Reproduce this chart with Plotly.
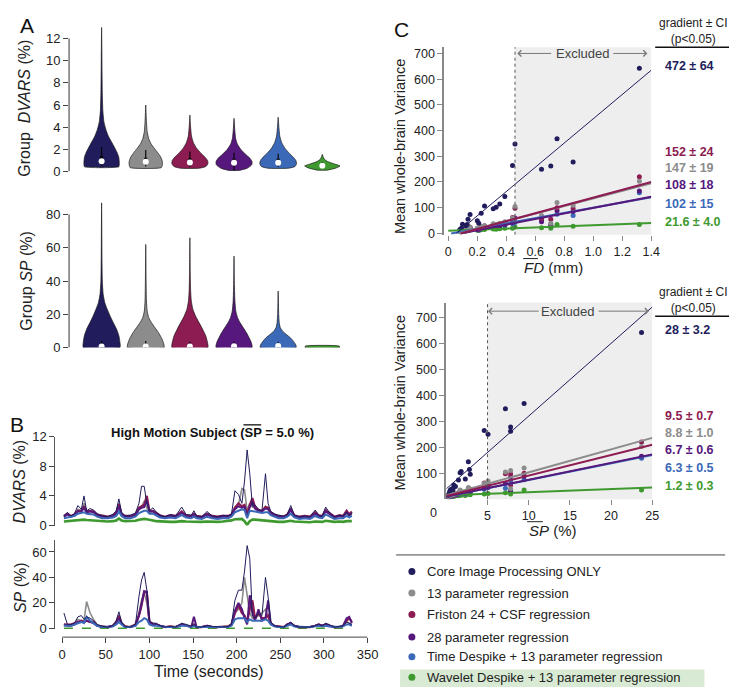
import plotly.graph_objects as go

W, H = 737, 687
FONT = "Liberation Sans, Arial, sans-serif"

PIPELINES = [
    "Core Image Processing ONLY",
    "13 parameter regression",
    "Friston 24 + CSF regression",
    "28 parameter regression",
    "Time Despike + 13 parameter regression",
    "Wavelet Despike + 13 parameter regression",
]
COLORS = ["#211d5c", "#8c8c8c", "#8c1c52", "#56187c", "#3b69b8", "#3e9a2f"]

# --- panel A: violin profiles (level, relative density) ---
DVARS_LEVELS = [
    [0.42, 0.6, 0.9, 1.3, 1.7, 2.2, 2.7, 3.2, 3.8, 4.5, 5.5, 7, 9, 11, 13],
    [0.35, 0.6, 0.9, 1.3, 1.7, 2.1, 2.5, 3.0, 3.6, 4.5, 6.0],
    [0.3, 0.45, 0.7, 1.0, 1.3, 1.7, 2.1, 2.6, 3.2, 4.0, 5.1],
    [0.1, 0.3, 0.6, 0.9, 1.2, 1.6, 2.0, 2.5, 3.0, 3.8, 4.8],
    [0.3, 0.45, 0.7, 1.0, 1.3, 1.7, 2.1, 2.6, 3.2, 4.0, 4.9],
    [0.12, 0.3, 0.5, 0.7, 0.9, 1.1, 1.3, 1.55],
]
DVARS_DENS = [
    [0.97, 1.0, 1.0, 0.97, 0.88, 0.72, 0.55, 0.38, 0.24, 0.13, 0.07, 0.04, 0.025, 0.015, 0],
    [0.88, 0.94, 0.94, 0.85, 0.68, 0.48, 0.3, 0.16, 0.08, 0.04, 0],
    [0.55, 0.9, 1.02, 1.0, 0.85, 0.6, 0.38, 0.2, 0.09, 0.04, 0],
    [0.3, 0.75, 1.0, 1.02, 0.9, 0.62, 0.38, 0.18, 0.09, 0.04, 0],
    [0.6, 0.95, 1.04, 1.0, 0.85, 0.6, 0.38, 0.2, 0.09, 0.04, 0],
    [0.25, 0.75, 1.0, 0.65, 0.3, 0.12, 0.05, 0],
]
# whisker low, q1, median, q3, whisker high
DVARS_BOX = [
    [0.5, 0.7, 0.92, 1.4, 2.2],
    [0.45, 0.65, 0.88, 1.25, 1.95],
    [0.4, 0.6, 0.82, 1.2, 1.8],
    [0.1, 0.5, 0.78, 1.15, 1.7],
    [0.4, 0.6, 0.78, 1.15, 1.6],
    [0.25, 0.4, 0.52, 0.65, 0.85],
]

SP_LEVELS = [
    [0, 3, 7, 11, 15, 19, 23, 27, 32, 40, 55, 70, 87],
    [0, 3, 6, 9, 12, 15, 18, 22, 28, 40, 62],
    [0, 3, 7, 11, 15, 19, 23, 28, 35, 45, 66],
    [0, 3, 6, 9, 12, 15, 18, 22, 28, 38, 55],
    [0, 2, 4, 6, 8, 10, 12, 15, 20, 27, 34],
    [0, 0.9],
]
SP_DENS = [
    [1.04, 1.04, 0.98, 0.85, 0.66, 0.48, 0.32, 0.18, 0.09, 0.04, 0.02, 0.012, 0],
    [1.04, 1.0, 0.88, 0.72, 0.52, 0.32, 0.17, 0.08, 0.04, 0.02, 0],
    [1.02, 1.0, 0.9, 0.72, 0.52, 0.32, 0.17, 0.08, 0.04, 0.02, 0],
    [1.02, 0.98, 0.85, 0.7, 0.52, 0.34, 0.2, 0.1, 0.05, 0.02, 0],
    [1.02, 0.98, 0.85, 0.68, 0.45, 0.24, 0.12, 0.06, 0.03, 0.015, 0],
    [0.98, 0.96],
]
SP_BOX = [
    [0, 0.2, 0.7, 2.0, 4.0],
    [0, 0.2, 0.7, 2.0, 4.0],
    [0, 0.2, 0.7, 1.8, 3.5],
    [0, 0.2, 0.8, 1.8, 3.5],
    [0, 0.2, 1.0, 2.0, 3.5],
    None,
]

# --- panel B: high motion subject time series ---
T = [2, 6, 10, 14, 18, 22, 25, 28, 32, 36, 40, 46, 52, 58, 62, 65, 68, 72, 78, 84,
     88, 91, 94, 97, 100, 104, 108, 112, 118, 124, 130, 137, 142, 148, 151, 154, 160, 166, 172, 178,
     184, 190, 194, 198, 202, 206, 209, 212, 215, 218, 221, 225, 229, 233, 236, 239, 243, 248, 254, 258,
     262, 266, 272, 278, 284, 290, 294, 298, 302, 306, 312, 318, 322, 326, 329, 332]

DVARS_CORE = [1.3, 1.8, 1.3, 1.6, 2.7, 2.2, 4.0, 2.0, 2.3, 2.1, 1.6, 1.3, 1.2, 1.5, 2.0, 3.6, 1.8, 1.3, 1.4, 1.7,
              3.0, 5.3, 5.3, 3.0, 2.0, 2.4, 1.8, 1.4, 1.2, 1.5, 1.3, 2.5, 1.5, 1.4, 2.0, 1.3, 1.2, 1.9, 1.3, 1.2,
              1.4, 1.3, 1.5, 4.7, 4.2, 3.0, 6.0, 10.2, 7.0, 2.6, 2.8, 2.2, 2.0, 7.0, 3.0, 1.9, 1.6, 1.4, 1.3, 1.5,
              2.7, 1.4, 1.2, 1.3, 1.2, 2.1, 1.4, 1.3, 2.5, 1.8, 1.2, 1.4, 1.3, 1.8, 1.4, 1.6]
DVARS_13P = [1.2, 1.5, 1.2, 1.5, 2.2, 2.0, 3.0, 1.9, 2.0, 1.9, 1.5, 1.2, 1.1, 1.3, 1.7, 3.0, 1.6, 1.2, 1.3, 1.5,
             2.4, 2.5, 3.3, 2.4, 1.8, 1.9, 1.6, 1.3, 1.1, 1.4, 1.2, 1.9, 1.4, 1.3, 1.6, 1.2, 1.1, 1.5, 1.2, 1.1,
             1.3, 1.2, 1.4, 2.5, 2.8, 5.0, 4.8, 2.0, 3.0, 2.5, 2.4, 2.0, 1.8, 2.6, 2.3, 1.7, 1.5, 1.3, 1.2, 1.4,
             2.2, 1.3, 1.1, 1.2, 1.1, 1.7, 1.3, 1.2, 2.0, 1.6, 1.1, 1.3, 1.2, 1.6, 1.3, 1.5]
DVARS_FRISTON = [1.3, 1.6, 1.3, 1.5, 2.0, 2.0, 2.6, 1.9, 2.0, 1.9, 1.5, 1.3, 1.2, 1.4, 1.8, 2.9, 1.6, 1.3, 1.3, 1.5,
                 2.4, 2.6, 2.8, 4.0, 2.0, 2.0, 1.7, 1.4, 1.2, 1.4, 1.3, 1.9, 1.4, 1.3, 1.6, 1.3, 1.2, 1.6, 1.3, 1.2,
                 1.3, 1.3, 1.5, 2.4, 3.0, 2.6, 2.8, 1.5, 2.8, 3.7, 2.5, 2.1, 2.0, 2.5, 2.4, 1.8, 1.5, 1.3, 1.2, 1.5,
                 2.3, 1.4, 1.2, 1.3, 1.2, 1.8, 1.4, 1.3, 2.1, 1.7, 1.2, 1.4, 1.3, 2.0, 1.5, 1.9]
DVARS_28P = [1.2, 1.5, 1.2, 1.4, 1.9, 1.9, 2.4, 1.8, 1.9, 1.8, 1.4, 1.2, 1.1, 1.3, 1.6, 2.6, 1.5, 1.2, 1.2, 1.4,
             2.2, 2.4, 2.5, 3.4, 1.9, 1.9, 1.6, 1.3, 1.1, 1.3, 1.2, 1.7, 1.3, 1.2, 1.5, 1.2, 1.1, 1.5, 1.2, 1.1,
             1.2, 1.2, 1.4, 2.2, 2.6, 2.4, 2.5, 1.2, 2.5, 3.2, 2.3, 2.0, 1.9, 2.3, 2.2, 1.7, 1.4, 1.2, 1.1, 1.4,
             2.1, 1.3, 1.1, 1.2, 1.1, 1.6, 1.3, 1.2, 1.9, 1.6, 1.1, 1.3, 1.2, 1.8, 1.4, 1.7]
DVARS_TIME = [1.0, 1.1, 1.1, 1.3, 1.6, 1.7, 1.8, 1.6, 1.6, 1.5, 1.2, 1.0, 1.0, 1.1, 1.3, 1.9, 1.3, 1.0, 1.0, 1.2,
              1.7, 1.9, 2.0, 2.0, 1.6, 1.6, 1.4, 1.1, 1.0, 1.1, 1.0, 1.4, 1.1, 1.0, 1.2, 1.0, 0.9, 1.2, 1.0, 0.9,
              1.0, 1.0, 1.2, 1.8, 2.0, 2.2, 2.1, 1.0, 2.0, 2.0, 1.9, 1.8, 1.7, 1.8, 1.8, 1.4, 1.2, 1.0, 1.0, 1.2,
              1.6, 1.1, 0.9, 1.0, 0.9, 1.3, 1.1, 1.0, 1.5, 1.3, 0.9, 1.0, 1.0, 1.3, 1.1, 1.3]
DVARS_WAVELET = [0.55, 0.6, 0.6, 0.65, 0.75, 0.8, 0.8, 0.75, 0.7, 0.7, 0.6, 0.55, 0.55, 0.6, 0.7, 0.95, 0.7, 0.6, 0.6, 0.65,
                 0.8, 0.9, 0.9, 0.85, 0.75, 0.7, 0.6, 0.55, 0.5, 0.5, 0.5, 0.6, 0.55, 0.5, 0.55, 0.5, 0.5, 0.55, 0.5, 0.5,
                 0.55, 0.6, 0.7, 0.85, 0.9, 0.9, 0.6, 0.1, 0.6, 0.8, 0.8, 0.75, 0.7, 0.7, 0.65, 0.6, 0.55, 0.5, 0.5, 0.55,
                 0.65, 0.55, 0.5, 0.5, 0.45, 0.55, 0.5, 0.5, 0.65, 0.6, 0.5, 0.55, 0.5, 0.6, 0.55, 0.6]

SP_CORE = [12, 3, 3, 4, 9, 10, 7, 9, 8, 6, 3, 1.5, 1, 2, 6, 13, 5, 1.5, 1, 3,
           25, 38, 44, 30, 6, 4, 4, 2, 1, 1.5, 1, 4, 3, 1.5, 3, 1, 1, 2, 1.5, 1,
           1, 1.5, 3, 22, 30, 30, 45, 65, 55, 10, 8, 12, 10, 40, 25, 5, 2, 1.5, 1, 3,
           5, 2, 1, 1, 1, 2, 3, 2, 4, 3, 1, 1.5, 2, 5, 4, 3]
SP_13P = [3, 3, 3, 4, 7, 6, 6, 21, 12, 7, 3, 1.5, 1, 2, 5, 10, 4, 1.5, 1, 3,
          12, 22, 28, 20, 5, 4, 3, 2, 1, 1.5, 1, 3, 3, 1.5, 3, 1, 1, 2, 1, 1,
          1, 1.5, 3, 12, 15, 20, 40, 25, 12, 8, 8, 10, 12, 15, 10, 4, 2, 1.5, 1, 3,
          4, 2, 1, 1, 1, 2, 3, 2, 3, 2, 1, 1.5, 2, 5, 4, 3]
SP_FRISTON = [3, 3, 3, 4, 5, 6, 5, 6, 5, 5, 2, 1.5, 1, 2, 5, 10, 4, 1.5, 1, 3,
              10, 18, 29, 28, 5, 3, 3, 2, 1, 1.5, 1, 3, 2, 1.5, 3, 1, 1, 2, 1, 1,
              1, 1.5, 3, 12, 18, 12, 10, 5, 15, 22, 8, 12, 8, 8, 10, 4, 2, 1.5, 1, 3,
              4, 2, 1, 1, 1, 2, 3, 2, 3, 2, 1, 1, 2, 6, 8, 5]
SP_28P = [3, 2, 2, 3, 5, 5, 5, 6, 5, 4, 2, 1, 1, 2, 4, 8, 4, 1, 1, 2,
          10, 20, 29, 29, 5, 3, 3, 2, 1, 1, 1, 3, 2, 1, 9, 1, 1, 2, 1, 1,
          1, 1, 3, 14, 20, 15, 8, 3, 26, 12, 6, 15, 6, 8, 22, 4, 2, 1, 1, 3,
          4, 2, 1, 1, 1, 2, 3, 2, 3, 2, 1, 1, 2, 8, 9, 4]
SP_TIME = [2, 2, 2, 3, 4, 5, 4, 9, 6, 4, 2, 1, 1, 1.5, 3, 5, 3, 1, 1, 2,
           5, 6, 8, 7, 3, 2, 2, 1.5, 1, 1, 1, 2, 2, 1, 2, 1, 1, 1.5, 1, 1,
           1, 1, 2, 7, 8, 8, 8, 5, 7, 6, 6, 6, 6, 7, 6, 3, 1.5, 1, 1, 2,
           3, 1.5, 1, 1, 1, 1.5, 2, 1.5, 2, 1.5, 1, 1, 1.5, 3, 3, 2]
SP_WAVELET_T = [2, 332]
SP_WAVELET = [0, 0]

# --- panel C: per-subject motion and whole-brain variance ---
SUBJ_FD = [1.318, 0.75, 0.46, 0.861, 0.443, 0.707, 0.643, 0.39, 0.355, 0.25, 0.33,
           0.31, 0.227, 0.15, 0.136, 0.2, 0.21, 0.098, 0.13, 0.12, 0.09, 0.08]
SUBJ_SP = [23.7, 9.44, 7.17, 7.8, 4.6, 7.8, 5.06, 2.67, 2.8, 1.8, 1.67,
           2.9, 2.3, 1.47, 0.9, 1.1, 0.7, 0.5, 0.8, 0.4, 0.3, 0.2]
VAR_CORE = [642, 368, 348, 278, 264, 262, 250, 144, 114, 107, 102, 96, 78, 74, 55, 49, 40, 36, 35, 30, 20, 15]
VAR_13P = [203, 120, 105, 110, 60, 40, 70, 45, 40, 30, 35, 38, 28, 25, 22, 20, 18, 15, 16, 14, 12, 10]
VAR_FRISTON = [220, 100, 98, 97, 62, 55, 58, 42, 38, 30, 32, 36, 26, 24, 20, 19, 17, 14, 15, 13, 11, 10]
VAR_28P = [165, 88, 60, 85, 42, 30, 45, 35, 30, 25, 27, 28, 22, 20, 17, 16, 14, 12, 13, 11, 10, 9]
VAR_TIME = [158, 75, 42, 70, 38, 35, 50, 32, 28, 22, 25, 26, 20, 18, 16, 15, 13, 11, 12, 10, 9, 8]
VAR_WAVELET = [35, 35, 25, 28, 20, 20, 22, 20, 18, 15, 16, 17, 14, 13, 12, 12, 11, 10, 10, 9, 9, 8]
VARS = [VAR_CORE, VAR_13P, VAR_FRISTON, VAR_28P, VAR_TIME, VAR_WAVELET]

FIT_FD_SLOPE = [472, 147, 152, 108, 102, 21.6]
FIT_FD_ICPT = [-26, -11, -13, -9, -2, 10]
FIT_SP_SLOPE = [28, 8.84, 7.9, 6.5, 6.4, 1.2]
FIT_SP_ICPT = [40, 15, 12, 10, 10, 15]
FD_CUTOFF, SP_CUTOFF = 0.46, 5
GRAD_FD_TEXT = ["472 ± 64", "147 ± 19", "152 ± 24", "108 ± 18", "102 ± 15", "21.6 ± 4.0"]
GRAD_SP_TEXT = ["28 ± 3.2", "8.8 ± 1.0", "9.5 ± 0.7", "6.7 ± 0.6", "6.3 ± 0.5", "1.2 ± 0.3"]


def fx(p):
    return p / W


def fy(p):
    return 1 - p / H


fig = go.Figure()

# violins
VSCALE = 0.40
for ax, levels_all, dens_all, boxes in [("", DVARS_LEVELS, DVARS_DENS, DVARS_BOX),
                                        ("2", SP_LEVELS, SP_DENS, SP_BOX)]:
    for i, (lv, dn) in enumerate(zip(levels_all, dens_all)):
        c = i + 1
        xs = [c + VSCALE * d for d in dn] + [c - VSCALE * d for d in reversed(dn)] + [c + VSCALE * dn[0]]
        ys = list(lv) + list(reversed(lv)) + [lv[0]]
        fig.add_trace(go.Scatter(x=xs, y=ys, xaxis="x" + ax, yaxis="y" + ax, mode="lines",
                                 fill="toself", fillcolor=COLORS[i],
                                 line=dict(color="#1a1a1a", width=0.7, shape="spline", smoothing=0.5),
                                 hoverinfo="skip"))
        b = boxes[i]
        if b is None:
            continue
        fig.add_trace(go.Scatter(x=[c, c], y=[b[0], b[4]], xaxis="x" + ax, yaxis="y" + ax, mode="lines",
                                 line=dict(color="black", width=1.1), hoverinfo="skip"))
        fig.add_trace(go.Scatter(x=[c, c], y=[b[1], b[3]], xaxis="x" + ax, yaxis="y" + ax, mode="lines",
                                 line=dict(color="black", width=3), hoverinfo="skip"))
        fig.add_trace(go.Scatter(x=[c], y=[b[2]], xaxis="x" + ax, yaxis="y" + ax, mode="markers",
                                 marker=dict(color="white", size=6, line=dict(width=0)), hoverinfo="skip"))

# time series
dv_series = [DVARS_CORE, DVARS_13P, DVARS_FRISTON, DVARS_28P, DVARS_TIME, DVARS_WAVELET]
sp_series = [SP_CORE, SP_13P, SP_FRISTON, SP_28P, SP_TIME]
widths = [1.0, 1.6, 2.2, 2.0, 2.0, 2.6]
for i in [5, 1, 2, 3, 4, 0]:
    fig.add_trace(go.Scatter(x=T, y=dv_series[i], xaxis="x3", yaxis="y3", mode="lines",
                             line=dict(color=COLORS[i], width=widths[i]), hoverinfo="skip"))
fig.add_trace(go.Scatter(x=SP_WAVELET_T, y=SP_WAVELET, xaxis="x4", yaxis="y4", mode="lines",
                         line=dict(color=COLORS[5], width=1.6, dash="dash"), hoverinfo="skip"))
for i in [1, 2, 3, 4, 0]:
    fig.add_trace(go.Scatter(x=T, y=sp_series[i], xaxis="x4", yaxis="y4", mode="lines",
                             line=dict(color=COLORS[i], width=widths[i]), hoverinfo="skip"))

# scatter + fits
for ax, xs_subj, slopes, icpts, xmax in [("5", SUBJ_FD, FIT_FD_SLOPE, FIT_FD_ICPT, 1.4),
                                          ("6", SUBJ_SP, FIT_SP_SLOPE, FIT_SP_ICPT, 25)]:
    for i in [5, 4, 3, 2, 1, 0]:
        fig.add_trace(go.Scatter(x=xs_subj, y=VARS[i], xaxis="x" + ax, yaxis="y" + ax, mode="markers",
                                 marker=dict(color=COLORS[i], size=5), hoverinfo="skip"))
    for i in [5, 4, 3, 1, 2, 0]:
        x0 = max(0, -icpts[i] / slopes[i])
        fig.add_trace(go.Scatter(x=[x0, xmax], y=[slopes[i] * x0 + icpts[i], slopes[i] * xmax + icpts[i]],
                                 xaxis="x" + ax, yaxis="y" + ax, mode="lines",
                                 line=dict(color=COLORS[i], width=1 if i == 0 else 2), hoverinfo="skip"))

tickfont = dict(size=13, color="#222")
base_ax = dict(showgrid=False, zeroline=False, ticks="outside", ticklen=5, tickcolor="#444",
               tickfont=tickfont)
layout_axes = dict(
    xaxis=dict(domain=[fx(62), fx(350)], range=[0.263, 6.69], visible=False, anchor="y"),
    yaxis=dict(base_ax, domain=[fy(160), fy(10)], range=[0, 13.24], tickvals=list(range(0, 13, 2)),
               anchor="x", showline=False),
    xaxis2=dict(domain=[fx(62), fx(350)], range=[0.263, 6.69], visible=False, anchor="y2"),
    yaxis2=dict(base_ax, domain=[fy(340), fy(190)], range=[0, 88.2], tickvals=[0, 20, 40, 60, 80],
                anchor="x2", showline=False),
    xaxis3=dict(domain=[fx(48), fx(365)], range=[-7.9, 350], visible=False, anchor="y3"),
    yaxis3=dict(base_ax, domain=[fy(522), fy(431)], range=[0, 12], tickvals=[0, 4, 8, 12],
                anchor="x3", showline=True, linecolor="#555", linewidth=1),
    xaxis4=dict(base_ax, domain=[fx(48), fx(365)], range=[-7.9, 350], tickvals=list(range(0, 351, 50)),
                anchor="free", position=fy(636), showline=False),
    yaxis4=dict(base_ax, domain=[fy(628), fy(537)], range=[-0.77, 69.2], tickvals=[0, 20, 40, 60],
                anchor="x4", showline=True, linecolor="#555", linewidth=1),
    xaxis5=dict(base_ax, domain=[fx(443), fx(653)], range=[-0.027, 1.4],
                tickvals=[0, 0.2, 0.4, 0.6, 0.8, 1.0, 1.2, 1.4],
                ticktext=["0", "0.2", "0.4", "0.6", "0.8", "1.0", "1.2", "1.4"],
                anchor="y5", showline=False, tickcolor="#888"),
    yaxis5=dict(base_ax, domain=[fy(224.6), fy(33)], range=[-5, 724], tickvals=list(range(0, 701, 100)),
                anchor="x5", showline=True, linecolor="#888", linewidth=2, tickcolor="#888"),
    xaxis6=dict(base_ax, domain=[fx(445), fx(654)], range=[0, 25], tickvals=[5, 10, 15, 20, 25],
                anchor="y6", showline=False, tickcolor="#888"),
    yaxis6=dict(base_ax, domain=[fy(495), fy(294)], range=[0, 757], tickvals=list(range(100, 701, 100)),
                anchor="x6", showline=True, linecolor="#888", linewidth=2, tickcolor="#888"),
)
for k in ["xaxis5", "yaxis5", "xaxis6", "yaxis6"]:
    layout_axes[k]["tickfont"] = dict(size=12.5, color="#222")

shapes = [
    dict(type="line", xref="x domain", yref="y", x0=0, x1=0, y0=0, y1=12, line=dict(color="#333", width=1)),
    dict(type="line", xref="x2 domain", yref="y2", x0=0, x1=0, y0=0, y1=80, line=dict(color="#333", width=1)),
    dict(type="line", xref="x4", yref="paper", x0=0, x1=350, y0=fy(636), y1=fy(636),
         line=dict(color="#444", width=1)),
    dict(type="rect", xref="x5", yref="y5 domain", x0=FD_CUTOFF, x1=1.4, y0=0, y1=1,
         fillcolor="#eeeeee", line=dict(width=0), layer="below"),
    dict(type="line", xref="x5", yref="y5 domain", x0=FD_CUTOFF, x1=FD_CUTOFF, y0=0, y1=1,
         line=dict(color="#555", width=1, dash="3px,3px")),
    dict(type="rect", xref="x6", yref="y6 domain", x0=SP_CUTOFF, x1=25, y0=0, y1=1,
         fillcolor="#eeeeee", line=dict(width=0), layer="below"),
    dict(type="line", xref="x6", yref="y6 domain", x0=SP_CUTOFF, x1=SP_CUTOFF, y0=0, y1=1,
         line=dict(color="#555", width=1, dash="3px,3px")),
    # gradient table rules
    dict(type="line", xref="paper", yref="paper", x0=fx(657), x1=fx(736), y0=fy(33), y1=fy(33),
         line=dict(color="#111", width=1.5)),
    dict(type="line", xref="paper", yref="paper", x0=fx(657), x1=fx(736), y0=fy(308), y1=fy(308),
         line=dict(color="#111", width=1.5)),
    # legend rule and highlight
    dict(type="line", xref="paper", yref="paper", x0=fx(394), x1=fx(728), y0=fy(552), y1=fy(552),
         line=dict(color="#444", width=1)),
    dict(type="rect", xref="paper", yref="paper", x0=fx(398), x1=fx(707), y0=fy(687), y1=fy(669),
         fillcolor="#d8ead4", line=dict(width=0), layer="below"),
    # overlines
    dict(type="line", xref="paper", yref="paper", x0=fx(523), x1=fx(538), y0=fy(249), y1=fy(249),
         line=dict(color="#222", width=1)),
    dict(type="line", xref="paper", yref="paper", x0=fx(527), x1=fx(543), y0=fy(518), y1=fy(518),
         line=dict(color="#222", width=1)),
    dict(type="line", xref="paper", yref="paper", x0=fx(239), x1=fx(257), y0=fy(419), y1=fy(419),
         line=dict(color="#111", width=1.3)),
]

annotations = []


def note(x, y, text, size=13, color="#222", xanchor="center", angle=0, bold=False):
    if bold:
        text = "<b>" + text + "</b>"
    annotations.append(dict(x=fx(x), y=fy(y), xref="paper", yref="paper", text=text, showarrow=False,
                            font=dict(size=size, color=color, family=FONT), xanchor=xanchor,
                            yanchor="middle", textangle=angle))


note(10, 11, "A", size=21, color="#111", xanchor="left")
note(0, 419, "B", size=21, color="#111", xanchor="left")
note(390, 15, "C", size=21, color="#111", xanchor="left")
note(17, 95, "Group\u00a0 <i>DVARS</i> (%)", size=16, angle=-90)
note(18, 272, "Group <i>SP</i> (%)", size=16, angle=-90)
note(12, 477, "<i>DVARS</i> (%)", size=16, angle=-90)
note(12, 585, "<i>SP</i> (%)", size=16, angle=-90)
note(204, 671, "Time (seconds)", size=16)
note(208, 427, "High Motion Subject (SP = 5.0 %)", size=13, color="#111", bold=True)
note(398, 135, "Mean whole-brain Variance", size=14.5, angle=-90)
note(398, 397, "Mean whole-brain Variance", size=14.5, angle=-90)
note(522, 258, "<i>FD</i> (mm)", size=15, xanchor="left")
note(527, 527, "<i>SP</i> (%)", size=15, xanchor="left")
note(432, 509, "0", size=12.5)

FD_ROW_Y = [52, 156, 140, 174, 193, 212]
SP_ROW_Y = [322, 427, 410, 445, 463, 482]
for hdr_y, rows_y, texts in [(16, FD_ROW_Y, GRAD_FD_TEXT), (291, SP_ROW_Y, GRAD_SP_TEXT)]:
    note(696, hdr_y, "gradient ± CI<br>(p<0.05)", size=12)
    for i, t in enumerate(texts):
        note(665, rows_y[i], t, size=12.5, color=COLORS[i], xanchor="left", bold=True)

# excluded arrows
for ax, y, head_l, tail_l, mid, tail_r, head_r in [("5", 700, 0.476, 0.72, 0.928, 1.128, 1.373),
                                                   ("6", 724, 5.06, 11.4, 14.7, 18.3, 24.6)]:
    for head, tail in [(head_l, tail_l), (head_r, tail_r)]:
        annotations.append(dict(x=head, y=y, ax=tail, ay=y, xref="x" + ax, yref="y" + ax,
                                axref="x" + ax, ayref="y" + ax, text="", showarrow=True,
                                arrowhead=4, arrowsize=1.2, arrowwidth=1, arrowcolor="#777"))
    annotations.append(dict(x=mid, y=y, xref="x" + ax, yref="y" + ax, text="Excluded", showarrow=False,
                            font=dict(size=13, color="#444", family=FONT)))

# legend
LEG_Y = [569, 591, 613, 636, 656, 677]
for i, name in enumerate(PIPELINES):
    shapes.append(dict(type="circle", xref="paper", yref="paper", xsizemode="pixel", ysizemode="pixel",
                       xanchor=fx(410), yanchor=fy(LEG_Y[i]), x0=-3.5, x1=3.5, y0=-3.5, y1=3.5,
                       fillcolor=COLORS[i], line=dict(width=0)))
    note(423, LEG_Y[i], name, size=13, color="#222", xanchor="left")

fig.update_layout(
    width=W, height=H, margin=dict(l=0, r=0, t=0, b=0),
    paper_bgcolor="white", plot_bgcolor="white", showlegend=False,
    font=dict(family=FONT, color="#222"),
    shapes=shapes, annotations=annotations, **layout_axes,
)

fig.write_html("out.html")
